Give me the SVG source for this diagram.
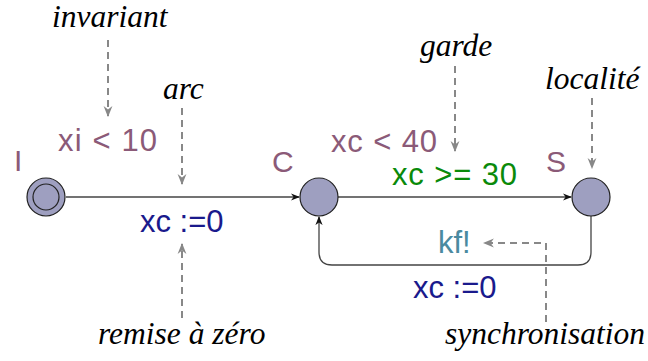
<svg xmlns="http://www.w3.org/2000/svg" width="648" height="361" viewBox="0 0 648 361">
<defs>
<style>
.node{fill:#9e9fc0;stroke:#222;stroke-width:1.2}
.edge{fill:none;stroke:#444;stroke-width:1.3}
.dash{fill:none;stroke:#888;stroke-width:2;stroke-dasharray:7,5}
.lbl{font-family:"Liberation Sans",Arial,sans-serif;font-size:31px}
.name{font-family:"Liberation Sans",Arial,sans-serif;font-size:30px;fill:#8b5a78}
.ann{font-family:"Liberation Serif","Times New Roman",serif;font-style:italic;font-size:31.5px;fill:#000}
.inv{fill:#8b5a78}
.asg{fill:#1a1a8c}
.grd{fill:#0a8a0a}
.syn{fill:#4a8aa0}
</style>
<marker id="ah" viewBox="0 0 10 10" refX="9" refY="5" markerWidth="9" markerHeight="9" markerUnits="userSpaceOnUse" orient="auto"><path d="M0,1 L10,5 L0,9 L3,5 Z" fill="#111"/></marker>
<marker id="ag" viewBox="0 0 10 10" refX="9" refY="5" markerWidth="11" markerHeight="11" markerUnits="userSpaceOnUse" orient="auto"><path d="M0,1 L10,5 L0,9 L3,5 Z" fill="#888"/></marker>
</defs>
<g id="connectors">
<path class="edge" d="M66,197 H299" marker-end="url(#ah)"/>
<path class="edge" d="M338,197 H571" marker-end="url(#ah)"/>
<path class="edge" d="M591,216 V252 Q591,265 578,265 H332 Q319,265 319,252 V217" marker-end="url(#ah)"/>
</g>
<g id="annotations">
<path class="dash" d="M108,40 V116" marker-end="url(#ag)"/>
<path class="dash" d="M182,108 V184" marker-end="url(#ag)"/>
<path class="dash" d="M455,66 V151" marker-end="url(#ag)"/>
<path class="dash" d="M592,98 V168" marker-end="url(#ag)"/>
<path class="dash" d="M182,318 V244" marker-end="url(#ag)"/>
<path class="dash" d="M546,322 V243 H484" marker-end="url(#ag)"/>
<text class="ann" x="52" y="27">invariant</text>
<text class="ann" x="163" y="99">arc</text>
<text class="ann" x="420" y="56">garde</text>
<text class="ann" x="545" y="89">localité</text>
<text class="ann" x="98" y="344">remise à zéro</text>
<text class="ann" x="445" y="344">synchronisation</text>
</g>
<g id="node-I">
<circle class="node" cx="46" cy="197" r="19"/>
<circle cx="46" cy="197" r="13" fill="none" stroke="#222" stroke-width="1.2"/>
<text class="name" x="14" y="171">I</text>
<text class="lbl inv" x="58" y="151" textLength="99" lengthAdjust="spacing">xi &lt; 10</text>
</g>
<g id="node-C">
<circle class="node" cx="319" cy="197" r="19"/>
<text class="name" x="272" y="172">C</text>
<text class="lbl inv" x="331" y="152" textLength="106" lengthAdjust="spacing">xc &lt; 40</text>
</g>
<g id="node-S">
<circle class="node" cx="591" cy="197" r="19"/>
<text class="name" x="546" y="172">S</text>
</g>
<g id="edge-labels">
<text class="lbl asg" x="140" y="232">xc :=0</text>
<text class="lbl grd" x="392" y="185" textLength="125" lengthAdjust="spacing">xc &gt;= 30</text>
<text class="lbl syn" x="438" y="253">kf!</text>
<text class="lbl asg" x="413" y="298">xc :=0</text>
</g>
</svg>
